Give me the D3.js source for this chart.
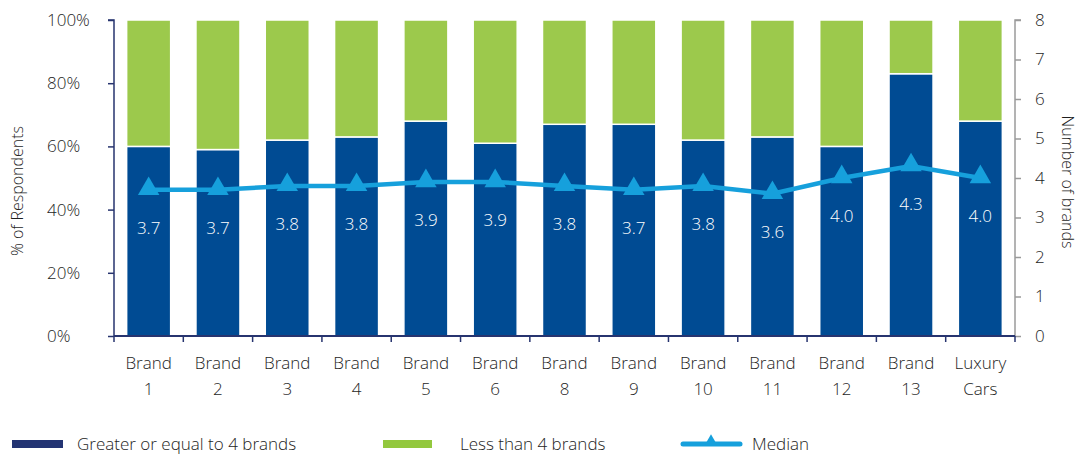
<!DOCTYPE html>
<html>
<head>
<meta charset="utf-8">
<script src="https://cdn.jsdelivr.net/npm/d3@7"></script>
<style>
  html, body { margin: 0; padding: 0; background: #fff; }
  svg { display: block; font-family: "Open Sans", "Noto Sans", sans-serif; font-weight: 350; }
  svg text { font-family: "Open Sans", "Noto Sans", sans-serif; fill: #1e1e1e; }
</style>
</head>
<body>
<svg id="chart" width="1081" height="457"></svg>
<script>
// Categories (two-line labels) and series
const categories = ["Brand 1", "Brand 2", "Brand 3", "Brand 4", "Brand 5", "Brand 6", "Brand 8",
                    "Brand 9", "Brand 10", "Brand 11", "Brand 12", "Brand 13", "Luxury Cars"];
const labelLines = [["Brand","1"],["Brand","2"],["Brand","3"],["Brand","4"],["Brand","5"],["Brand","6"],
                    ["Brand","8"],["Brand","9"],["Brand","10"],["Brand","11"],["Brand","12"],["Brand","13"],
                    ["Luxury","Cars"]];
const geFour   = [60, 59, 62, 63, 68, 61, 67, 67, 62, 63, 60, 83, 68];   // % greater or equal to 4 brands
const ltFour   = geFour.map(v => 100 - v);                                // % less than 4 brands
const median   = [3.7, 3.7, 3.8, 3.8, 3.9, 3.9, 3.8, 3.7, 3.8, 3.6, 4.0, 4.3, 4.0];
const leftTicks  = [0, 20, 40, 60, 80, 100];
const rightTicks = [0, 1, 2, 3, 4, 5, 6, 7, 8];
const legendLabels = ["Greater or equal to 4 brands", "Less than 4 brands", "Median"];

const NAVY = "#004b93", GREEN = "#9cc94c", LINE = "#16a0dc", AXIS = "#27346f", GREY = "#9a9a9a";

const svg = d3.select("#chart");
const plotL = 114, plotR = 1015, plotT = 20, plotB = 336;

const x = d3.scaleBand().domain(categories).range([plotL, plotR]).paddingInner(0.365).paddingOuter(0.1825);
const y = d3.scaleLinear().domain([0, 100]).range([plotB, plotT]);
const y2 = d3.scaleLinear().domain([0, 8]).range([plotB, plotT]);

const rows = categories.map((c, i) => ({ c, ge: geFour[i], lt: ltFour[i], m: median[i] }));

// Stacked bars
const g = svg.append("g");
g.selectAll("rect.ge").data(rows).join("rect")
  .attr("x", d => x(d.c)).attr("width", x.bandwidth())
  .attr("y", d => y(d.ge)).attr("height", d => y(0) - y(d.ge))
  .attr("fill", NAVY).attr("stroke", "#fff").attr("stroke-width", 1.5);
g.selectAll("rect.lt").data(rows).join("rect")
  .attr("x", d => x(d.c)).attr("width", x.bandwidth())
  .attr("y", d => y(d.ge + d.lt)).attr("height", d => y(d.ge) - y(d.ge + d.lt))
  .attr("fill", GREEN).attr("stroke", "#fff").attr("stroke-width", 1.5);

// Left axis
const la = svg.append("g").attr("transform", `translate(${plotL},0)`)
  .call(d3.axisLeft(y).tickValues(leftTicks).tickSize(6).tickFormat(d => d + "%"));
la.selectAll("path, line").attr("stroke", AXIS).attr("stroke-width", 1.5);
la.selectAll("text").attr("text-anchor", "start").attr("x", 47 - plotL)
  .style("font-size", "17px");
la.select(".domain").attr("d", `M-6,${plotT}H0V${plotB}`);

// Right axis
const ra = svg.append("g").attr("transform", `translate(${plotR},0)`)
  .call(d3.axisRight(y2).tickValues(rightTicks).tickSize(6).tickFormat(d3.format("d")));
ra.selectAll("path, line").attr("stroke", GREY).attr("stroke-width", 1.5);
ra.selectAll("text").attr("x", 20).style("font-size", "17px");
ra.select(".domain").attr("d", `M6,${plotT}H0V${plotB}`);

// Bottom axis with category-boundary ticks
const ba = svg.append("g").attr("transform", `translate(0,${plotB})`)
  .call(d3.axisBottom(x).tickSize(0).tickFormat(""));
ba.select(".domain").attr("d", `M${plotL},0H${plotR}`).attr("stroke", AXIS).attr("stroke-width", 2);
const step = x.step();
ba.selectAll("line.bound").data(d3.range(categories.length + 1)).join("line")
  .attr("x1", i => plotL + i * step).attr("x2", i => plotL + i * step)
  .attr("y1", 0).attr("y2", 6).attr("stroke", AXIS).attr("stroke-width", 1.5);
ba.selectAll(".tick").each(function(d, i) {
  const t = d3.select(this).append("text").attr("text-anchor", "middle")
    .style("font-size", "17px");
  t.append("tspan").attr("x", 0).attr("y", 33).text(labelLines[i][0]);
  t.append("tspan").attr("x", 0).attr("y", 59).text(labelLines[i][1]);
});
[la, ra, ba].forEach(a => a.attr("font-family", null).attr("font-size", null));

// Median line with triangle markers
const cx = d => x(d.c) + x.bandwidth() / 2;
svg.append("path").datum(rows)
  .attr("d", d3.line().x(cx).y(d => y2(d.m)))
  .attr("fill", "none").attr("stroke", LINE).attr("stroke-width", 4.5);
const tri = d3.symbol().type(d3.symbolTriangle).size(200);
svg.selectAll("path.mk").data(rows).join("path")
  .attr("transform", d => `translate(${cx(d)},${y2(d.m) - 1})`)
  .attr("d", tri).attr("fill", LINE);

// Median value labels
svg.selectAll("text.val").data(rows).join("text")
  .attr("x", cx).attr("y", d => y2(d.m) + 44)
  .attr("text-anchor", "middle").style("font-size", "17px").style("fill", "#fff")
  .text(d => d.m.toFixed(1));

// Axis titles
svg.append("text").attr("transform", "translate(23,191) rotate(-90)")
  .attr("text-anchor", "middle").style("font-size", "16px").text("% of Respondents");
svg.append("text").attr("transform", "translate(1062,182) rotate(90)")
  .attr("text-anchor", "middle").style("font-size", "16px").text("Number of brands");

// Legend
const lg = svg.append("g");
lg.append("rect").attr("x", 12).attr("y", 440).attr("width", 51).attr("height", 8).attr("fill", "#233473");
lg.append("text").attr("x", 77).attr("y", 450).style("font-size", "17px").text(legendLabels[0]);
lg.append("rect").attr("x", 383).attr("y", 440).attr("width", 49).attr("height", 8).attr("fill", "#93c83e");
lg.append("text").attr("x", 460).attr("y", 450).style("font-size", "17px").text(legendLabels[1]);
lg.append("line").attr("x1", 683).attr("x2", 740).attr("y1", 444).attr("y2", 444)
  .attr("stroke", LINE).attr("stroke-width", 5).attr("stroke-linecap", "round");
lg.append("path").attr("transform", "translate(711,441)")
  .attr("d", d3.symbol().type(d3.symbolTriangle).size(60)).attr("fill", LINE);
lg.append("text").attr("x", 752).attr("y", 450).style("font-size", "17px").text(legendLabels[2]);
</script>
</body>
</html>
